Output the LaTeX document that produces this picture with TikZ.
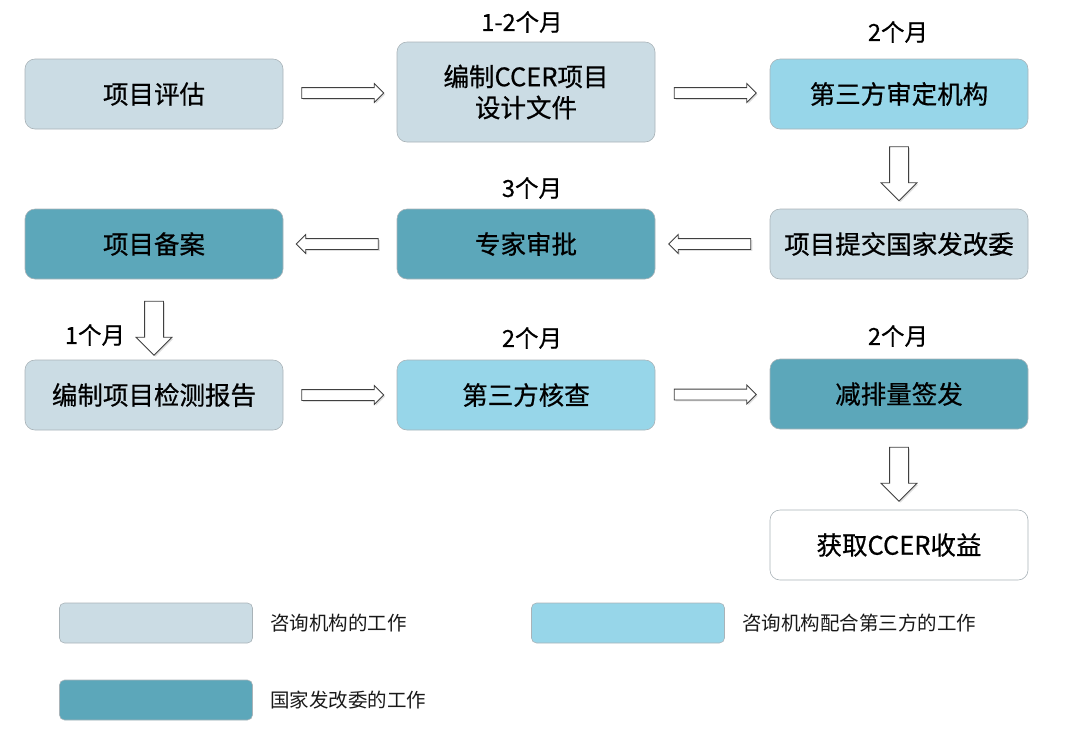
\documentclass[tikz,border=0pt]{standalone}
\usepackage{fontspec}
\setmainfont{Noto Sans CJK SC}
\newfontfamily\boxfont{Noto Sans CJK SC}[FakeBold=0.6]
\usetikzlibrary{shapes.arrows,shadows,calc}
\definecolor{consultgray}{HTML}{CBDCE4}
\definecolor{thirdcyan}{HTML}{97D6E9}
\definecolor{ndrcteal}{HTML}{5CA7BA}
\definecolor{edgegray}{HTML}{A9B3B8}

\begin{document}
\begin{tikzpicture}[x=1pt,y=-1pt,
        box/.style={rectangle,rounded corners=10pt,draw=edgegray,line width=0.6pt,
                    minimum width=258pt,minimum height=70pt,align=center,
                    font=\boxfont\fontsize{25.5}{31}\selectfont,text=black},
        key/.style={rectangle,rounded corners=5pt,draw=edgegray,line width=0.6pt,
                    minimum width=193pt,minimum height=40pt},
        period/.style={font=\boxfont\fontsize{23.5}{27}\selectfont},
        keytext/.style={font=\fontsize{19.5}{23}\selectfont,anchor=west,text=black!90},
        harrow/.style={single arrow,draw=black!75,fill=white,line width=0.8pt,
                    minimum height=82pt,inner sep=5pt,
                    single arrow head extend=4pt,single arrow tip angle=90,
                    drop shadow={opacity=0.25,shadow xshift=1.5pt,shadow yshift=-1.5pt}},
        larrow/.style={harrow,shape border rotate=180},
        varrow/.style={harrow,minimum height=54pt,inner sep=9pt,
                    single arrow head extend=8.5pt,shape border rotate=270}]
  \useasboundingbox (0,0) rectangle (1080,740);
  % steps, row by row
  \node[box,fill=consultgray] (assess) at (154,94) {项目评估};
  \node[box,fill=consultgray,minimum height=100pt] (pdd) at (526,92) {编制CCER项目\\设计文件};
  \node[box,fill=thirdcyan] (validate) at (899,94) {第三方审定机构};
  \node[box,fill=ndrcteal] (record) at (154,244) {项目备案};
  \node[box,fill=ndrcteal] (expert) at (526,244) {专家审批};
  \node[box,fill=consultgray] (submit) at (899,244) {项目提交国家发改委};
  \node[box,fill=consultgray] (monitor) at (154,395) {编制项目检测报告};
  \node[box,fill=thirdcyan] (verify) at (526,395) {第三方核查};
  \node[box,fill=ndrcteal] (issue) at (899,394) {减排量签发};
  \node[box,fill=white] (income) at (899,545) {获取CCER收益};
  % durations
  \node[period] (t1) at (522,22) {1-2个月};
  \node[period] (t2) at (898,32) {2个月};
  \node[period] (t3) at (532,188) {3个月};
  \node[period] (t4) at (95,335) {1个月};
  \node[period] (t5) at (532,338) {2个月};
  \node[period] (t6) at (898,336) {2个月};
  % block arrows
  \node[harrow] (a1) at ($(assess.east)!0.5!(pdd.west)$) {};
  \node[harrow] (a2) at ($(pdd.east)!0.5!(validate.west)$) {};
  \node[varrow] (a3) at ($(validate.south)!0.5!(submit.north)$) {};
  \node[larrow] (a4) at ($(submit.west)!0.5!(expert.east)$) {};
  \node[larrow] (a5) at ($(expert.west)!0.5!(record.east)$) {};
  \node[varrow] (a6) at ($(record.south)!0.5!(monitor.north)+(0,4)$) {};
  \node[harrow] (a7) at ($(monitor.east)!0.5!(verify.west)$) {};
  \node[harrow] (a8) at ($(verify.east)!0.5!(issue.west)$) {};
  \node[varrow] (a9) at ($(issue.south)!0.5!(income.north)$) {};
  % legend
  \node[key,fill=consultgray] (k1) at (156,623) {};
  \node[keytext] (k1t) at ($(k1.east)+(14,0)$) {咨询机构的工作};
  \node[key,fill=thirdcyan] (k2) at (628,623) {};
  \node[keytext] (k2t) at ($(k2.east)+(14,0)$) {咨询机构配合第三方的工作};
  \node[key,fill=ndrcteal] (k3) at (156,700) {};
  \node[keytext] (k3t) at ($(k3.east)+(14,0)$) {国家发改委的工作};
\end{tikzpicture}
\end{document}
